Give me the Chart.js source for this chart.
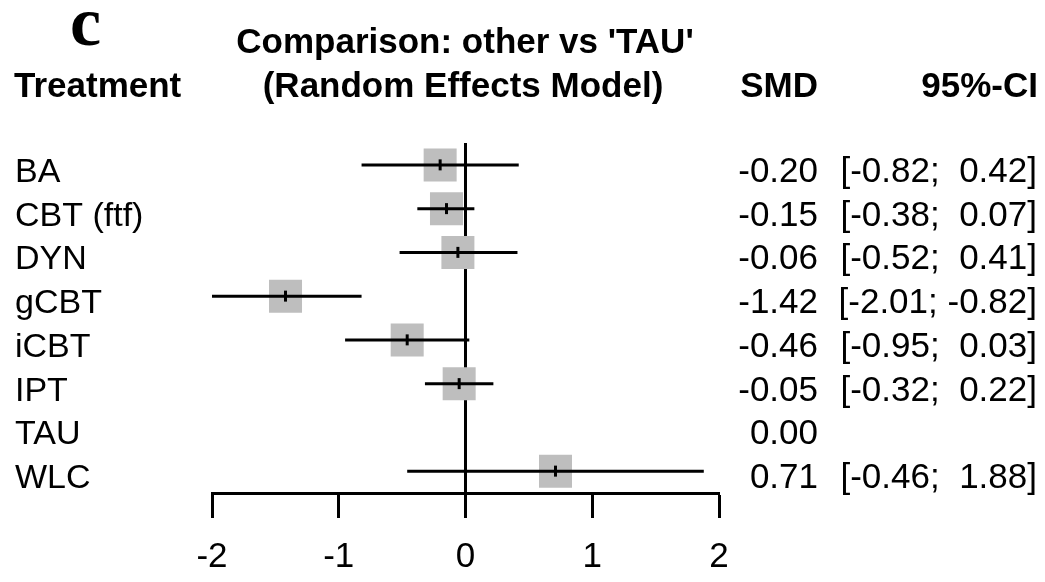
<!DOCTYPE html>
<html>
<head>
<meta charset="utf-8">
<script src="https://cdn.jsdelivr.net/npm/chart.js@4"></script>
<style>
  html, body { margin: 0; padding: 0; background: #fff; }
  #wrap { width: 1045px; height: 582px; }
</style>
</head>
<body>
<div id="wrap"><canvas id="chart1" width="1045" height="582"></canvas></div>
<script>
// forest plot: other vs TAU
const treatments = ['BA', 'CBT (ftf)', 'DYN', 'gCBT', 'iCBT', 'IPT', 'TAU', 'WLC'];
const smd   = [-0.20, -0.15, -0.06, -1.42, -0.46, -0.05, 0.00, 0.71];
const lower = [-0.82, -0.38, -0.52, -2.01, -0.95, -0.32, null, -0.46];
const upper = [ 0.42,  0.07,  0.41, -0.82,  0.03,  0.22, null,  1.88];
const xTicks = [-2, -1, 0, 1, 2];

const boxSide = 33;
const grey = '#bebebe';

const rows = treatments.map((t, i) => i).filter(i => lower[i] !== null);

const ciSets = rows.map(i => ({
    type: 'line',
    data: [{x: lower[i], y: i}, {x: upper[i], y: i}],
    borderColor: '#000',
    borderWidth: 3,
    pointRadius: 0,
}));

const fmt = v => v.toFixed(2);

const textPlugin = {
    id: 'forestText',
    afterDraw(chart) {
        const ctx = chart.ctx;
        const y = chart.scales.y;
        ctx.save();
        ctx.fillStyle = '#000';
        ctx.textBaseline = 'alphabetic';

        ctx.font = 'bold 70px "Liberation Serif"';
        ctx.textAlign = 'left';
        ctx.fillText('c', 70, 45);

        ctx.font = 'bold 35px "Liberation Sans"';
        ctx.textAlign = 'left';
        ctx.fillText('Treatment', 14, 97);
        ctx.textAlign = 'center';
        ctx.fillText("Comparison: other vs 'TAU'", 465, 53);
        ctx.fillText('(Random Effects Model)', 463, 97);
        ctx.textAlign = 'right';
        ctx.fillText('SMD', 818, 97);
        ctx.fillText('95%-CI', 1038, 97);

        treatments.forEach((t, i) => {
            const py = y.getPixelForValue(i) + 17;
            ctx.font = '34px "Liberation Sans"';
            ctx.textAlign = 'left';
            ctx.fillText(t, 15, py);
            ctx.font = '35px "Liberation Sans"';
            ctx.textAlign = 'right';
            ctx.fillText(fmt(smd[i]), 818, py);
            if (lower[i] !== null) {
                const ci = '[' + fmt(lower[i]) + '; ' + (upper[i] < 0 ? '' : ' ') + fmt(upper[i]) + ']';
                ctx.fillText(ci, 1037, py);
            }
        });
        ctx.restore();
    }
};

const ctx1 = document.querySelector('#chart1').getContext('2d');
const chart1 = new Chart(ctx1, {
    type: 'scatter',
    data: {
        datasets: [
            {
                // point estimate ticks
                data: rows.map(i => ({x: smd[i], y: i})),
                pointStyle: 'line',
                rotation: 90,
                radius: 5.5,
                borderColor: '#000',
                borderWidth: 3,
            },
            ...ciSets,
            {
                // grey boxes
                data: rows.map(i => ({x: smd[i], y: i})),
                pointStyle: 'rect',
                radius: boxSide / Math.SQRT2,
                backgroundColor: grey,
                borderWidth: 0,
            },
            {
                // line of no effect
                type: 'line',
                data: [{x: 0, y: -0.5}, {x: 0, y: 7.5}],
                borderColor: '#000',
                borderWidth: 3,
                pointRadius: 0,
            },
        ],
    },
    options: {
        responsive: false,
        animation: false,
        events: [],
        layout: { padding: { left: 212, right: 326, top: 143, bottom: -14 } },
        plugins: { legend: { display: false }, tooltip: { enabled: false } },
        scales: {
            x: {
                type: 'linear',
                min: -2,
                max: 2,
                afterBuildTicks: axis => { axis.ticks = xTicks.map(v => ({value: v})); },
                border: { display: true, color: '#000', width: 3 },
                grid: { drawOnChartArea: false, drawTicks: true, tickLength: 25, tickWidth: 3, tickColor: '#000', color: '#000' },
                ticks: { color: '#000', padding: 18, font: { family: 'Liberation Sans', size: 35 } },
            },
            y: {
                type: 'linear',
                reverse: true,
                min: -0.5,
                max: 7.5,
                display: false,
            },
        },
    },
    plugins: [textPlugin],
});
</script>
</body>
</html>
